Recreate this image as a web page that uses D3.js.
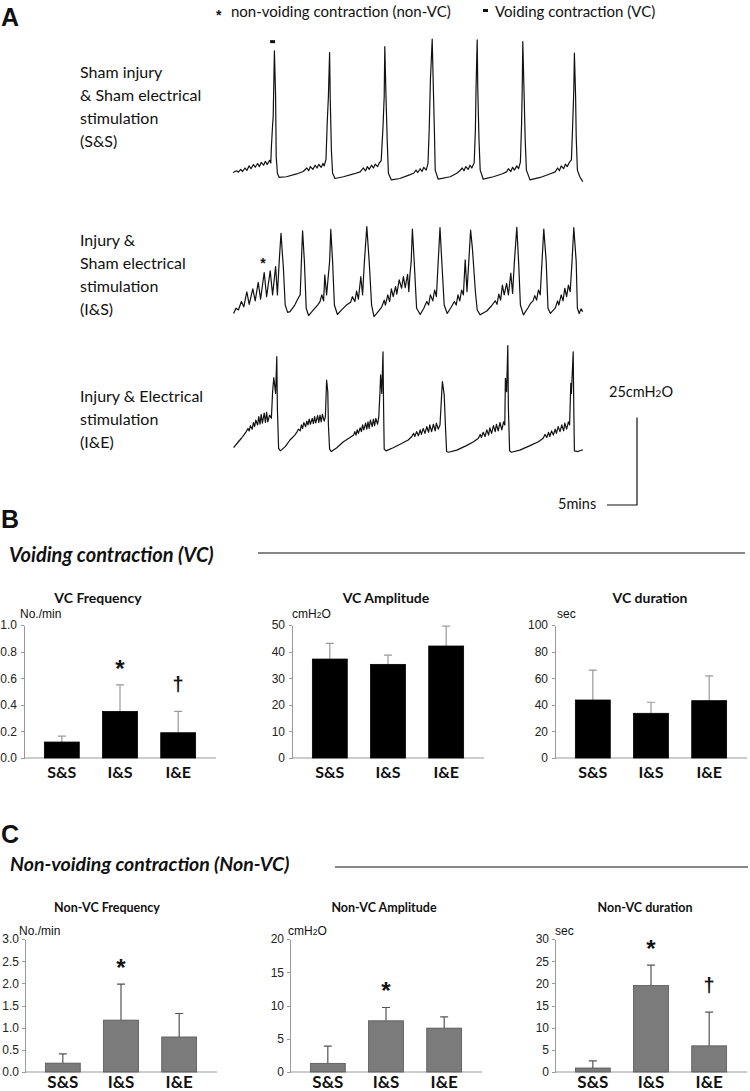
<!DOCTYPE html>
<meta charset="utf-8">
<head>
<title>Voiding and non-voiding contractions</title>
<style>
body { margin: 0; background: #fff; }
svg { display: block; }
.cal { font-family: Lato, "Open Sans", sans-serif; fill: #111; }
.ari { font-family: "Liberation Sans", Arial, sans-serif; fill: #111; }
.axis path, .axis line { stroke: #9a9a9a; shape-rendering: crispEdges; }
.axis text { font: 12px "Liberation Sans", Arial, sans-serif; fill: #222; }
.trace { fill: none; stroke: #111; stroke-width: 1.2px; stroke-linejoin: round; }
</style>
</head>
<body>
<div id="chart"></div>
<script src="https://d3js.org/d3.v7.min.js"></script>
<script>

// ---- cystometry traces: [time (min), pressure (cmH2O)] ----
var traceSS = [
  [0.0,2.7],[0.6,3.2],[0.9,2.8],[1.3,3.6],[1.6,3.0],[2.0,4.0],[2.3,3.3],[2.7,4.6],[3.0,3.8],[3.4,5.0],[3.7,4.2],[4.1,5.3],[4.4,4.4],[4.7,5.6],[5.1,4.8],[5.4,5.9],[5.7,5.0],[6.1,6.2],[6.3,5.4],
  [6.4,10.1],[6.6,16.3],[6.7,18.7],[6.9,37.5],[7.1,24.4],[7.2,7.2],[7.4,2.5],[7.7,1.3],
  [8.9,1.5],[10.6,2.3],[11.7,3.0],[12.3,4.0],[12.6,3.2],[12.9,4.4],[13.3,3.6],[13.7,4.8],[14.0,4.0],[14.3,5.0],[14.7,4.2],[15.0,5.3],[15.2,4.6],[15.5,6.5],[15.7,16.8],[15.9,24.4],[16.1,37.0],[16.2,24.4],[16.4,9.1],[16.6,2.5],[17.0,1.0],
  [18.4,1.5],[20.1,2.3],[21.2,2.9],[21.7,4.0],[22.1,3.2],[22.4,4.4],[22.7,3.6],[23.1,4.8],[23.4,4.0],[23.7,5.1],[24.1,4.4],[24.4,5.5],[24.7,6.1],[25.0,15.8],[25.2,24.4],[25.3,38.7],[25.5,24.4],[25.7,12.0],[25.9,2.5],[26.4,0.6],
  [27.8,1.0],[29.2,1.9],[30.1,2.5],[30.5,3.4],[30.8,2.7],[31.2,3.8],[31.5,3.0],[31.8,4.2],[32.2,3.4],[32.5,5.3],[32.7,14.9],[32.9,29.1],[33.2,40.8],[33.4,26.3],[33.6,12.0],[33.7,3.4],[34.2,0.8],
  [36.2,1.5],[37.3,2.5],[37.8,3.2],[38.2,4.0],[38.5,3.2],[38.8,4.4],[39.2,3.6],[39.5,4.8],[39.8,4.0],[40.2,5.5],[40.4,14.9],[40.5,26.3],[40.7,40.6],[40.8,26.3],[41.0,12.0],[41.2,3.4],[41.7,0.8],
  [43.4,1.5],[44.8,2.3],[45.6,2.9],[45.9,3.8],[46.3,3.0],[46.6,4.2],[46.9,3.4],[47.3,4.6],[47.6,3.8],[47.9,5.7],[48.1,16.8],[48.2,26.3],[48.3,40.1],[48.5,26.3],[48.7,12.0],[48.9,3.4],[49.5,0.6],
  [51.2,1.3],[52.8,2.3],[53.7,2.9],[54.1,4.0],[54.4,3.2],[54.7,4.6],[55.1,3.8],[55.4,5.1],[55.7,4.4],[56.1,5.7],[56.4,6.3],[56.6,15.8],[56.8,26.3],[56.9,36.8],[57.1,24.4],[57.2,13.0],[57.4,3.4],[57.8,1.5],[58.3,0.1]
];

var traceIS = [
  [0.1,1.3],[0.5,2.8],[0.9,2.3],[1.4,4.7],[1.8,3.2],[2.3,7.5],[2.7,3.9],[3.3,8.3],[3.7,4.9],[4.2,10.2],[4.6,5.4],[5.2,13.0],[5.6,6.1],[6.2,13.5],[6.6,6.6],[7.1,14.7],[7.4,6.6],[7.7,16.1],[8.0,24.2],[8.4,14.2],[8.7,3.7],[9.1,1.6],[9.5,1.8],[10.3,3.7],[10.9,5.8],[11.2,6.6],[11.4,16.1],[11.6,24.9],[11.9,16.1],[12.2,2.8],[12.6,0.7],
  [13.4,2.3],[14.1,3.7],[14.5,4.7],[14.8,6.6],[15.1,4.9],[15.3,12.3],[15.6,6.6],[15.8,10.4],[16.1,16.1],[16.3,25.3],[16.6,16.1],[16.9,3.7],[17.4,1.0],
  [18.1,2.3],[18.9,3.7],[19.6,4.5],[19.9,6.1],[20.3,4.7],[20.6,7.7],[20.9,5.4],[21.3,11.8],[21.6,6.6],[21.9,16.1],[22.3,26.1],[22.7,16.1],[23.1,3.7],[23.5,0.4],
  [24.2,1.8],[24.8,3.2],[25.2,5.1],[25.4,3.7],[25.8,6.6],[26.1,4.7],[26.4,8.3],[26.7,6.1],[27.1,9.0],[27.3,6.8],[27.7,10.9],[28.1,8.5],[28.4,11.8],[28.7,8.7],[29.1,12.5],[29.3,7.5],[29.5,12.5],[29.7,16.1],[29.9,25.4],[30.2,16.1],[30.6,2.8],[31.2,1.0],
  [31.8,2.8],[32.3,4.7],[32.6,3.7],[32.9,6.6],[33.3,4.9],[33.6,8.0],[33.9,6.1],[34.2,16.1],[34.5,25.8],[34.8,16.1],[35.2,3.7],[35.7,1.3],
  [36.4,3.2],[36.9,4.7],[37.2,3.7],[37.5,6.6],[37.8,4.9],[38.1,8.0],[38.4,6.6],[38.7,16.6],[39.0,7.5],[39.3,16.1],[39.6,25.1],[39.9,19.9],[40.4,7.5],[40.7,2.3],[41.2,0.9],
  [42.3,2.0],[43.1,3.5],[43.7,4.9],[44.0,3.9],[44.3,6.8],[44.6,5.1],[44.9,9.4],[45.2,6.6],[45.6,9.9],[45.9,6.6],[46.3,12.8],[46.6,7.0],[46.9,16.1],[47.3,25.9],[47.6,16.1],[47.9,3.7],[48.4,0.9],
  [49.2,3.0],[49.6,4.2],[50.0,4.9],[50.3,6.4],[50.6,5.1],[50.9,8.0],[51.2,6.6],[51.5,16.1],[51.8,25.4],[52.2,16.1],[52.5,2.8],[52.9,1.3],
  [53.7,2.8],[54.1,4.9],[54.3,3.7],[54.7,6.6],[55.0,4.9],[55.3,8.5],[55.6,6.1],[55.9,9.4],[56.2,7.5],[56.5,16.1],[56.8,25.8],[57.2,16.1],[57.4,2.8],[57.7,1.3],[58.0,2.6],[58.3,1.8]
];

var traceIE = [
  [0.1,1.8],[0.9,3.5],[1.4,4.5],[1.8,5.4],[2.2,6.4],[2.5,7.3],[2.7,6.6],[2.9,8.1],[3.2,7.1],[3.4,9.0],[3.6,7.8],[3.8,9.7],[4.1,8.3],[4.3,10.7],[4.5,8.5],[4.7,11.3],[4.9,8.8],[5.2,11.7],[5.4,9.0],[5.6,11.9],[5.8,9.2],[6.1,11.1],[6.4,10.2],[6.6,17.8],[6.8,21.8],[7.1,17.3],[7.3,27.8],[7.4,13.0],[7.6,1.6],[7.9,0.9],
  [8.7,2.1],[9.5,4.0],[10.3,5.4],[10.7,6.4],[10.9,7.1],[11.2,6.6],[11.4,8.3],[11.6,7.3],[11.8,9.0],[12.1,7.8],[12.3,9.4],[12.5,8.3],[12.7,10.0],[12.9,8.5],[13.2,10.2],[13.4,8.7],[13.6,10.7],[13.8,8.9],[14.1,11.0],[14.3,9.0],[14.5,11.1],[14.7,9.2],[14.9,11.3],[15.2,9.4],[15.4,10.7],[15.6,21.1],[15.8,17.8],[15.9,8.3],[16.1,1.4],[16.4,0.7],
  [17.3,1.8],[18.4,3.5],[19.5,4.7],[20.1,5.4],[20.3,6.4],[20.5,5.4],[20.7,6.9],[20.9,5.9],[21.2,7.5],[21.4,6.4],[21.6,8.3],[21.8,6.9],[22.1,8.8],[22.3,7.1],[22.5,9.2],[22.7,7.3],[22.9,9.7],[23.2,7.8],[23.4,10.0],[23.6,8.1],[23.8,10.2],[24.1,8.5],[24.3,10.7],[24.5,17.8],[24.6,22.6],[24.8,17.3],[25.0,29.2],[25.1,13.0],[25.2,1.4],[25.5,0.9],
  [26.7,1.8],[28.1,3.0],[29.2,4.0],[29.8,5.0],[30.1,5.9],[30.3,5.0],[30.6,6.4],[30.9,5.2],[31.2,6.9],[31.4,5.6],[31.7,7.3],[32.0,5.9],[32.3,7.8],[32.6,6.2],[32.8,8.3],[33.1,6.4],[33.4,8.5],[33.7,6.6],[33.9,8.8],[34.2,7.1],[34.5,8.3],[34.8,17.8],[34.9,20.7],[35.2,16.9],[35.4,8.3],[35.6,0.7],[35.9,0.5],
  [37.3,1.1],[38.9,2.4],[40.1,3.5],[40.9,4.5],[41.2,5.6],[41.4,4.7],[41.7,6.2],[42.0,5.0],[42.3,6.9],[42.6,5.4],[42.8,7.5],[43.1,5.9],[43.4,8.1],[43.7,6.4],[43.9,8.5],[44.2,6.6],[44.5,9.0],[44.8,6.9],[45.1,9.2],[45.3,8.3],[45.4,21.6],[45.6,17.8],[45.8,31.0],[45.9,13.0],[46.1,0.9],[46.4,0.5],
  [47.8,1.1],[49.5,2.4],[50.9,3.5],[51.7,4.5],[52.0,5.6],[52.3,4.7],[52.6,6.2],[52.8,5.0],[53.1,6.6],[53.4,5.4],[53.7,7.1],[53.9,5.9],[54.2,7.8],[54.5,6.4],[54.8,8.3],[55.1,6.6],[55.3,8.8],[55.6,7.1],[55.9,9.2],[56.1,8.3],[56.3,20.2],[56.4,17.3],[56.7,29.2],[56.8,13.0],[56.9,0.9],[57.5,0.7],[57.9,1.0],[58.3,1.2]
];

var traceLabels = [
  ["Sham injury", "& Sham electrical", "stimulation", "(S&S)"],
  ["Injury &", "Sham electrical", "stimulation", "(I&S)"],
  ["Injury & Electrical", "stimulation", "(I&E)"]
];

// annotations on the traces, [time, pressure]
var vcMarkSS = [6.6, 40.1];
var nvcStarIS = [5.0, 16.6];
var scaleBarP = 25, scaleBarT = 5;

// ---- summary bars ----
var groups = ["S&S", "I&S", "I&E"];

var vcTitles = ["VC Frequency", "VC Amplitude", "VC duration"];
var nvcTitles = ["Non-VC Frequency", "Non-VC Amplitude", "Non-VC duration"];
var units = ["No./min", "cmH2O", "sec"];

var vcFreqMean = [0.12, 0.35, 0.19], vcFreqSD = [0.045, 0.20, 0.16], vcFreqSig = ["", "*", "\u2020"];
var vcAmpMean = [37.2, 35.2, 42.1], vcAmpSD = [5.9, 3.5, 7.5], vcAmpSig = ["", "", ""];
var vcDurMean = [43.6, 33.6, 43.1], vcDurSD = [22.4, 8.3, 18.6], vcDurSig = ["", "", ""];

var nvcFreqMean = [0.2, 1.17, 0.79], nvcFreqSD = [0.21, 0.81, 0.53], nvcFreqSig = ["", "*", ""];
var nvcAmpMean = [1.3, 7.7, 6.6], nvcAmpSD = [2.6, 2.0, 1.7], nvcAmpSig = ["", "*", ""];
var nvcDurMean = [0.9, 19.5, 5.9], nvcDurSD = [1.6, 4.6, 7.6], nvcDurSig = ["", "*", "\u2020"];

var vcYMax = [1.0, 50, 100], vcYStep = [0.2, 10, 20], vcTickFmt = [".1f", "d", "d"];
var nvcYMax = [3.0, 20, 30], nvcYStep = [0.5, 5, 5], nvcTickFmt = [".1f", "d", "d"];

var width = 750, height = 1091;

var svg = d3.select('#chart')
    .append('svg')
    .attr('width', width)
    .attr('height', height);

svg.append('rect').attr('width', width).attr('height', height).attr('fill', '#fff');

// ---------- panel A ----------
svg.append('text').attr('class', 'ari').attr('x', 1).attr('y', 26)
    .style('font-size', '25px').style('font-weight', 'bold').text('A');

// legend
svg.append('text').attr('class', 'ari').attr('x', 216).attr('y', 20)
    .style('font-size', '14px').style('font-weight', 'bold').text('*');
svg.append('text').attr('class', 'cal').attr('x', 231).attr('y', 17)
    .style('font-size', '15px').text('non-voiding contraction (non-VC)');
svg.append('rect').attr('x', 483).attr('y', 9).attr('width', 5).attr('height', 3).attr('fill', '#111');
svg.append('text').attr('class', 'cal').attr('x', 495).attr('y', 17)
    .style('font-size', '15px').text('Voiding contraction (VC)');

var xT = d3.scaleLinear().domain([0, 60]).range([233, 593]);
var traceZero = [182, 318, 454];
var labelTop = [78, 246, 402];
var traces = [traceSS, traceIS, traceIE];

traces.forEach(function (data, i) {
  var yT = d3.scaleLinear().domain([0, 25]).range([traceZero[i], traceZero[i] - 87.5]);
  var line = d3.line().x(function (d) { return xT(d[0]); }).y(function (d) { return yT(d[1]); });

  svg.append('path').datum(data).attr('class', 'trace').attr('d', line);

  svg.append('g').selectAll('text')
    .data(traceLabels[i])
    .enter().append('text')
      .attr('class', 'cal')
      .attr('x', 80)
      .attr('y', function (d, j) { return labelTop[i] + j * 23; })
      .style('font-size', '16px')
      .text(function (d) { return d; });

  if (i === 0) {
    svg.append('rect')
      .attr('x', xT(vcMarkSS[0]) - 2.5).attr('y', yT(vcMarkSS[1]) - 1.5)
      .attr('width', 5).attr('height', 3).attr('fill', '#111');
  }
  if (i === 1) {
    svg.append('text').attr('class', 'ari')
      .attr('x', xT(nvcStarIS[0])).attr('y', yT(nvcStarIS[1]) + 8)
      .attr('text-anchor', 'middle')
      .style('font-size', '14px').style('font-weight', 'bold').text('*');
  }
  if (i === 2) {
    // scale bar
    var barX = 637, barBottom = 505;
    var barH = yT(0) - yT(scaleBarP), barW = xT(scaleBarT) - xT(0);
    svg.append('path')
      .attr('d', 'M' + barX + ',' + (barBottom - barH) + 'V' + barBottom + 'H' + (barX - barW))
      .attr('fill', 'none').attr('stroke', '#111').attr('stroke-width', 1.2);
    var lab = svg.append('text').attr('class', 'cal').attr('x', 609).attr('y', 397).style('font-size', '14.5px');
    lab.append('tspan').text('25cmH');
    lab.append('tspan').style('font-size', '10px').text('2');
    lab.append('tspan').text('O');
    svg.append('text').attr('class', 'cal').attr('x', 558).attr('y', 509)
      .style('font-size', '14.5px').text(scaleBarT + 'mins');
  }
});

// ---------- panels B and C ----------
function unitText(sel, u) {
  if (u === 'cmH2O') {
    sel.append('tspan').text('cmH');
    sel.append('tspan').style('font-size', '8.5px').text('2');
    sel.append('tspan').text('O');
  } else {
    sel.text(u);
  }
}

function barChart(cfg) {
  var g = svg.append('g');
  var L = cfg.left, W = 192;

  var x = d3.scaleBand().domain(groups).range([L, L + W]).paddingInner(0.4).paddingOuter(0.35);
  var y = d3.scaleLinear().domain([0, cfg.yMax]).range([cfg.bottom, cfg.top]);

  g.append('g').attr('class', 'axis')
    .attr('transform', 'translate(' + L + ',0)')
    .call(d3.axisLeft(y)
      .tickValues(d3.range(0, cfg.yMax + cfg.step / 2, cfg.step))
      .tickFormat(d3.format(cfg.fmt))
      .tickSize(3).tickSizeOuter(0).tickPadding(cfg.tickPad || 4));

  g.append('line').attr('class', 'axis')
    .attr('x1', L).attr('x2', L + W)
    .attr('y1', cfg.bottom).attr('y2', cfg.bottom)
    .attr('stroke', '#9a9a9a');

  var rows = groups.map(function (k, i) {
    return { k: k, m: cfg.mean[i], sd: cfg.sd[i], sig: cfg.sig[i] };
  });

  // error bars (upper only)
  g.selectAll('.err').data(rows).enter().append('path')
    .attr('d', function (d) {
      var cx = x(d.k) + x.bandwidth() / 2, top = y(d.m + d.sd);
      return 'M' + cx + ',' + y(d.m) + 'V' + top + 'M' + (cx - 4) + ',' + top + 'H' + (cx + 4);
    })
    .attr('fill', 'none').attr('stroke', cfg.errColor).attr('stroke-width', 1.2);

  g.selectAll('.bar').data(rows).enter().append('rect')
    .attr('x', function (d) { return x(d.k); })
    .attr('y', function (d) { return y(d.m); })
    .attr('width', x.bandwidth())
    .attr('height', function (d) { return cfg.bottom - y(d.m); })
    .attr('fill', cfg.fill)
    .attr('stroke', cfg.stroke).attr('stroke-width', 0.8);

  g.selectAll('.sig').data(rows.filter(function (d) { return d.sig; })).enter().append('text')
    .attr('class', 'ari')
    .attr('x', function (d) { return x(d.k) + x.bandwidth() / 2; })
    .attr('y', function (d) { return y(d.m + d.sd) - (d.sig === '*' ? 8 : 20); })
    .attr('text-anchor', 'middle')
    .style('font-size', function (d) { return d.sig === '*' ? '24px' : '20px'; })
    .style('font-weight', 'bold')
    .text(function (d) { return d.sig; });

  g.selectAll('.xl').data(groups).enter().append('text')
    .attr('class', 'cal')
    .attr('x', function (d) { return x(d) + x.bandwidth() / 2; })
    .attr('y', cfg.labelY)
    .attr('text-anchor', 'middle')
    .style('font-size', cfg.labelSize + 'px').style('font-weight', 'bold')
    .text(function (d) { return d; });

  g.append('text').attr('class', 'cal')
    .attr('x', cfg.titleX).attr('y', cfg.titleY)
    .attr('text-anchor', 'middle')
    .style('font-size', cfg.titleSize + 'px').style('font-weight', 'bold')
    .text(cfg.title);

  g.append('text').attr('class', 'ari')
    .attr('x', L + cfg.unitDx).attr('y', cfg.unitY)
    .style('font-size', '12px')
    .call(unitText, cfg.unit);
}

// B
svg.append('text').attr('class', 'ari').attr('x', 1).attr('y', 528)
    .style('font-size', '25px').style('font-weight', 'bold').text('B');
svg.append('text').attr('class', 'cal').attr('x', 9).attr('y', 562)
    .style('font-size', '20px').style('font-weight', 'bold').style('font-style', 'italic')
    .text('Voiding contraction (VC)');
svg.append('line').attr('x1', 258).attr('x2', 745).attr('y1', 553).attr('y2', 553)
    .attr('stroke', '#111').attr('stroke-width', 1.2);

var vcMeans = [vcFreqMean, vcAmpMean, vcDurMean];
var vcSDs = [vcFreqSD, vcAmpSD, vcDurSD];
var vcSigs = [vcFreqSig, vcAmpSig, vcDurSig];
var bLeft = [24, 292, 555], bTitleX = [98, 386, 650], unitDx = [-4, 0, 2];

[0, 1, 2].forEach(function (i) {
  barChart({
    left: bLeft[i], top: 625, bottom: 758,
    yMax: vcYMax[i], step: vcYStep[i], fmt: vcTickFmt[i],
    mean: vcMeans[i], sd: vcSDs[i], sig: vcSigs[i],
    fill: '#000', stroke: '#000', errColor: '#9a9a9a',
    title: vcTitles[i], titleX: bTitleX[i], titleY: 603, titleSize: 14,
    labelY: 778, labelSize: 16,
    unit: units[i], unitDx: unitDx[i], unitY: 618
  });
});

// C
svg.append('text').attr('class', 'ari').attr('x', 1).attr('y', 843)
    .style('font-size', '25px').style('font-weight', 'bold').text('C');
svg.append('text').attr('class', 'cal').attr('x', 10).attr('y', 871)
    .style('font-size', '19.5px').style('font-weight', 'bold').style('font-style', 'italic')
    .text('Non-voiding contraction (Non-VC)');
svg.append('line').attr('x1', 335).attr('x2', 748).attr('y1', 867).attr('y2', 867)
    .attr('stroke', '#111').attr('stroke-width', 1.2);

var nvcMeans = [nvcFreqMean, nvcAmpMean, nvcDurMean];
var nvcSDs = [nvcFreqSD, nvcAmpSD, nvcDurSD];
var nvcSigs = [nvcFreqSig, nvcAmpSig, nvcDurSig];
var cLeft = [25, 290, 555], cTitleX = [107, 384, 645];

[0, 1, 2].forEach(function (i) {
  barChart({
    left: cLeft[i], top: 939, bottom: 1072,
    yMax: nvcYMax[i], step: nvcYStep[i], fmt: nvcTickFmt[i],
    mean: nvcMeans[i], sd: nvcSDs[i], sig: nvcSigs[i],
    fill: '#7b7b7b', stroke: '#555', errColor: '#555',
    title: nvcTitles[i], titleX: cTitleX[i], titleY: 912, titleSize: 12.5,
    labelY: 1088, labelSize: 17, tickPad: 3,
    unit: units[i], unitDx: unitDx[i] - 2, unitY: 935
  });
});

</script>
</body>
